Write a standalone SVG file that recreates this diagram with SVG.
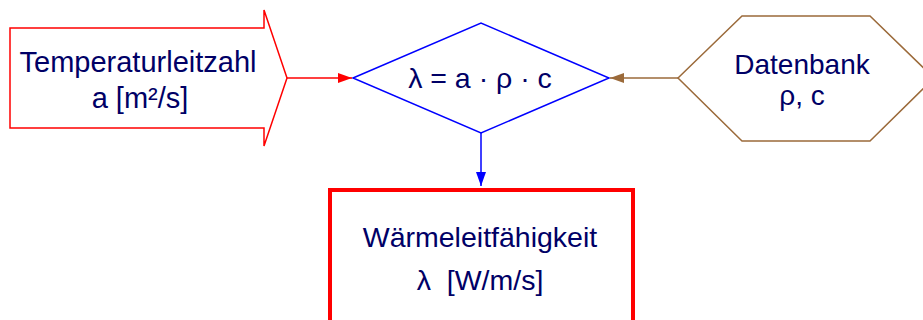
<svg xmlns="http://www.w3.org/2000/svg" width="923" height="320" viewBox="0 0 923 320">
<defs>
<style>
text{font-family:"Liberation Sans",Arial,sans-serif;font-size:28px;fill:#000066;text-anchor:middle;white-space:pre}
.conn{fill:none;stroke-width:1.5}
</style>
<marker id="ah-red" viewBox="0 0 14 10" refX="14" refY="5" markerWidth="14" markerHeight="10" markerUnits="userSpaceOnUse" orient="auto"><path d="M0,0 L14,5 L0,10 Z" fill="#ff0000"/></marker>
<marker id="ah-brown" viewBox="0 0 14 10" refX="14" refY="5" markerWidth="14" markerHeight="10" markerUnits="userSpaceOnUse" orient="auto"><path d="M0,0 L14,5 L0,10 Z" fill="#9b6a3a"/></marker>
<marker id="ah-blue" viewBox="0 0 14 10" refX="14" refY="5" markerWidth="14" markerHeight="10" markerUnits="userSpaceOnUse" orient="auto"><path d="M0,0 L14,5 L0,10 Z" fill="#0000ff"/></marker>
</defs>
<rect width="923" height="320" fill="#ffffff"/>
<g id="temperaturleitzahl">
<polygon points="10,28 264,28 264,10 287,78 264,146 264,128 10,128" fill="#ffffff" stroke="#ff0000" stroke-width="1.5"/>
<text x="138" y="72" style="font-size:29px">Temperaturleitzahl</text>
<text x="140" y="108" style="font-size:29px">a [m²/s]</text>
</g>
<g id="formel">
<polygon points="353,78 481,23 609,78 481,133" fill="#ffffff" stroke="#0000ff" stroke-width="1.5"/>
<text x="480" y="88" style="font-size:28.5px">λ = a · ρ · c</text>
</g>
<g id="datenbank">
<polygon points="678,78 742,16 870,16 934,78 870,141 742,141" fill="#ffffff" stroke="#9b6a3a" stroke-width="1.5"/>
<text x="802" y="74">Datenbank</text>
<text x="802" y="105">ρ, c</text>
</g>
<g id="waermeleitfaehigkeit">
<rect x="330" y="190" width="303" height="140" fill="#ffffff" stroke="#ff0000" stroke-width="4"/>
<text x="480" y="247" style="font-size:28.5px">Wärmeleitfähigkeit</text>
<text x="480" y="290" style="font-size:28.5px" xml:space="preserve">λ  [W/m/s]</text>
</g>
<g id="connectors">
<line class="conn" x1="287" y1="78" x2="352" y2="78" stroke="#ff0000" marker-end="url(#ah-red)"/>
<line class="conn" x1="678" y1="78" x2="610" y2="78" stroke="#9b6a3a" marker-end="url(#ah-brown)"/>
<line class="conn" x1="481" y1="133" x2="481" y2="186" stroke="#0000ff" marker-end="url(#ah-blue)"/>
</g>
</svg>
